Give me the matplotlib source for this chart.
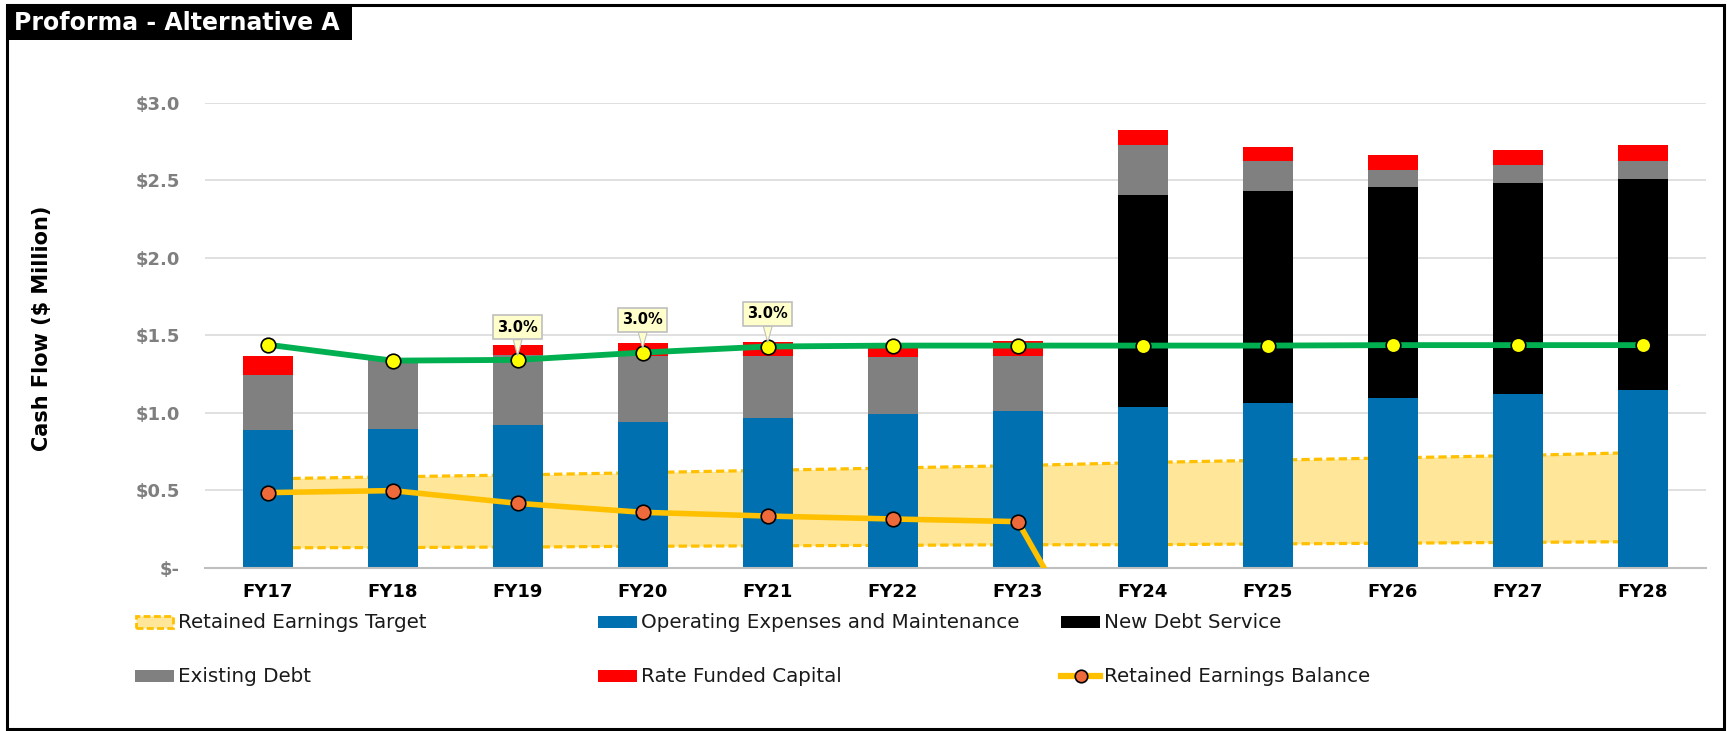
import numpy as np
import matplotlib
matplotlib.use("Agg")
import matplotlib.pyplot as plt
from matplotlib.patches import Rectangle
from matplotlib.lines import Line2D

plt.rcParams['font.family'] = ['DejaVu Sans']

# ---------------- data ----------------
years = ['FY17', 'FY18', 'FY19', 'FY20', 'FY21', 'FY22', 'FY23',
         'FY24', 'FY25', 'FY26', 'FY27', 'FY28']
opex = [0.890, 0.897, 0.923, 0.942, 0.966, 0.991, 1.015, 1.041, 1.065, 1.095, 1.120, 1.146]
new_debt = [0, 0, 0, 0, 0, 0, 0, 1.363, 1.367, 1.361, 1.362, 1.364]
existing_debt = [0.355, 0.443, 0.451, 0.426, 0.402, 0.372, 0.353, 0.325, 0.189, 0.110, 0.114, 0.111]
rate_funded = [0.123, 0.000, 0.066, 0.082, 0.090, 0.065, 0.097, 0.092, 0.093, 0.099, 0.101, 0.108]
revenue = [1.440, 1.337, 1.342, 1.389, 1.428, 1.434, 1.434, 1.434, 1.434, 1.437, 1.437, 1.437]
re_balance = [0.486, 0.499, 0.417, 0.359, 0.335, 0.316, 0.299, -1.12,
              np.nan, np.nan, np.nan, np.nan]
re_target_low = [0.130, 0.132, 0.135, 0.140, 0.143, 0.146, 0.150, 0.150, 0.155, 0.160, 0.165, 0.170]
re_target_high = [0.575, 0.588, 0.600, 0.615, 0.630, 0.645, 0.660, 0.680, 0.695, 0.710, 0.725, 0.745]
callout_idx = [2, 3, 4]
callout_text = ['3.0%', '3.0%', '3.0%']
yticks = [0, 0.5, 1.0, 1.5, 2.0, 2.5, 3.0]
ytick_labels = ['$-', '$0.5', '$1.0', '$1.5', '$2.0', '$2.5', '$3.0']
series_names = ['Retained Earnings Target', 'Operating Expenses and Maintenance',
                'New Debt Service', 'Existing Debt', 'Rate Funded Capital',
                'Retained Earnings Balance']

# ---------------- styles ----------------
C_BLUE = '#0070B0'
C_BLACK = '#000000'
C_GREY = '#808080'
C_RED = '#FF0000'
C_GREEN = '#00B050'
C_GOLD = '#FFC000'
C_BAND = '#FFE699'
C_ORANGE = '#EE6A3A'

W, H = 1727, 731
def fx(p): return p / W
def fy(p): return 1 - p / H

fig = plt.figure(figsize=(W / 100, H / 100), dpi=100)
fig.patch.set_facecolor('white')

ax = fig.add_axes([fx(205), fy(568), (1705.6 - 205) / W, (568 - 102.7) / H])
x = np.arange(len(years))

# band (retained earnings target)
ax.fill_between(x, re_target_low, re_target_high, color=C_BAND, lw=0, zorder=1)
ax.plot(x, re_target_low, color=C_GOLD, lw=2.3, ls=(0, (2.6, 1.3)), zorder=1.1)
ax.plot(x, re_target_high, color=C_GOLD, lw=2.3, ls=(0, (2.6, 1.3)), zorder=1.1)

# stacked bars
bw = 0.4
b1 = np.array(opex)
b2 = b1 + np.array(new_debt)
b3 = b2 + np.array(existing_debt)
ax.bar(x, opex, bw, color=C_BLUE, zorder=2)
ax.bar(x, new_debt, bw, bottom=b1, color=C_BLACK, zorder=2)
ax.bar(x, existing_debt, bw, bottom=b2, color=C_GREY, zorder=2)
ax.bar(x, rate_funded, bw, bottom=b3, color=C_RED, zorder=2)

# retained earnings balance line
ax.plot(x, re_balance, color=C_GOLD, lw=4, marker='o', ms=10.5,
        mfc=C_ORANGE, mec='black', mew=1.2, zorder=3)

# revenue line
ax.plot(x, revenue, color=C_GREEN, lw=4.2, marker='o', ms=10.5,
        mfc='#FFFF00', mec='black', mew=1.2, zorder=4)

# callouts
for i, t in zip(callout_idx, callout_text):
    ax.annotate(t, xy=(i, revenue[i]), xytext=(0, 23.5), textcoords='offset points',
                ha='center', va='center', fontsize=10.5, fontweight='bold', color='black',
                bbox=dict(boxstyle='square,pad=0.3', fc='#FFFFCC', ec='#BFBFBF', lw=1.2),
                arrowprops=dict(arrowstyle='wedge,tail_width=0.6', fc='#FFFFCC',
                                ec='#BFBFBF', lw=0.8, shrinkA=0, shrinkB=3),
                zorder=6, annotation_clip=False)

ax.set_xlim(-0.5, len(years) - 0.5)
ax.set_ylim(0, 3.0)
ax.set_yticks(yticks)
ax.set_yticklabels(ytick_labels, fontsize=13, fontweight='bold', color='#7F7F7F')
ax.set_xticks(x)
ax.set_xticklabels(years, fontsize=13, fontweight='bold', color='black')
ax.tick_params(axis='y', length=0, pad=18)
ax.tick_params(axis='x', length=0, pad=11)
ax.yaxis.grid(True, color='#DDDDDD', lw=1.3)
ax.set_axisbelow(True)
for s in ['top', 'right', 'left']:
    ax.spines[s].set_visible(False)
ax.spines['bottom'].set_color('#BFBFBF')
ax.spines['bottom'].set_linewidth(1.5)

# y label
fig.text(fx(42), fy(328), 'Cash Flow ($ Million)', rotation=90, ha='center', va='center',
         fontsize=15, fontweight='bold', color='black')

# legend (manual)
handles = ['band', C_BLUE, C_BLACK, C_GREY, C_RED, 'line']
pos = [(135, 622), (598, 622), (1061, 622), (135, 676), (598, 676), (1061, 676)]
for (px, py), h, name in zip(pos, handles, series_names):
    if h == 'band':
        fig.add_artist(Rectangle((fx(px + 1), fy(py + 6)), 37 / W, 12 / H, transform=fig.transFigure,
                                 fc=C_BAND, ec=C_GOLD, lw=2, ls=(0, (2.5, 1.2))))
    elif h == 'line':
        fig.add_artist(Line2D([fx(px), fx(px + 39)], [fy(py), fy(py)], transform=fig.transFigure,
                              color=C_GOLD, lw=4.5))
        fig.add_artist(Line2D([fx(px + 19.5)], [fy(py)], transform=fig.transFigure, marker='o',
                              ms=9, mfc=C_ORANGE, mec='black', mew=1.2, lw=0))
    else:
        fig.add_artist(Rectangle((fx(px), fy(py + 6)), 39 / W, 12 / H, transform=fig.transFigure,
                                 fc=h, ec='none'))
    fig.text(fx(px + 43), fy(py), name, ha='left', va='center', fontsize=14.3, color='#1A1A1A')

# title box and outer border
fig.add_artist(Rectangle((fx(7), fy(40)), (352 - 7) / W, (40 - 5) / H, transform=fig.transFigure,
                         fc='black', ec='black', lw=0))
fig.text(fx(14), fy(22.5), 'Proforma - Alternative A', ha='left', va='center',
         fontsize=17, fontweight='bold', color='white')
fig.add_artist(Rectangle((fx(7), fy(729)), (1724 - 7) / W, (729 - 5) / H, transform=fig.transFigure,
                         fill=False, ec='black', lw=2.2))

fig.savefig('out.png', dpi=100, facecolor='white')
